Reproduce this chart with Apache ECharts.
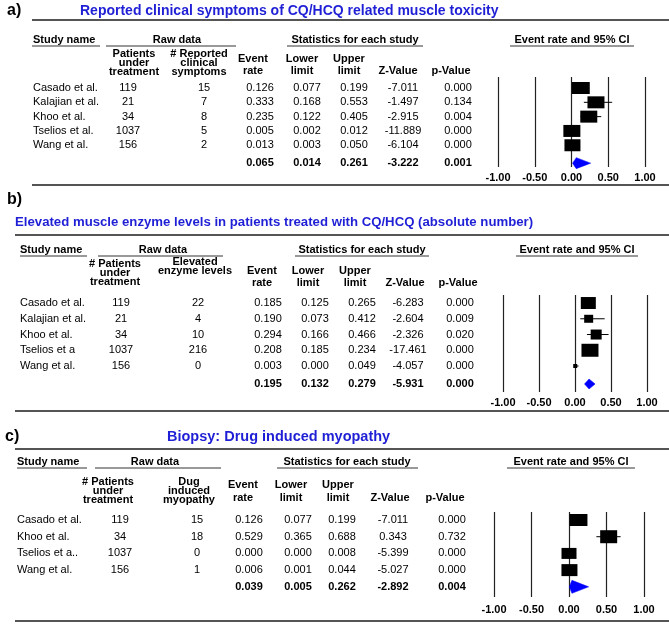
<!DOCTYPE html>
<html><head><meta charset="utf-8">
<script src="https://cdn.jsdelivr.net/npm/echarts@6/dist/echarts.min.js"></script>
<style>html,body{margin:0;padding:0;background:#fff}#c{width:669px;height:624px}</style>
</head><body><div id="c"></div><script>
// ---------- data ----------
const tickValues = [-1, -0.5, 0, 0.5, 1];

// a) Reported clinical symptoms
const aStudies  = ['Casado et al.', 'Kalajian et al.', 'Khoo et al.', 'Tselios et al.', 'Wang et al.'];
const aPatients = [119, 21, 34, 1037, 156];
const aEvents   = [15, 7, 8, 5, 2];
const aRate     = [0.126, 0.333, 0.235, 0.005, 0.013];
const aLower    = [0.077, 0.168, 0.122, 0.002, 0.003];
const aUpper    = [0.199, 0.553, 0.405, 0.012, 0.050];
const aZ        = [-7.011, -1.497, -2.915, -11.889, -6.104];
const aP        = [0.000, 0.134, 0.004, 0.000, 0.000];
const aSummary  = [0.065, 0.014, 0.261, -3.222, 0.001]; // rate, lower, upper, z, p

// b) Elevated muscle enzyme levels
const bStudies  = ['Casado et al.', 'Kalajian et al.', 'Khoo et al.', 'Tselios et a', 'Wang et al.'];
const bPatients = [119, 21, 34, 1037, 156];
const bEvents   = [22, 4, 10, 216, 0];
const bRate     = [0.185, 0.190, 0.294, 0.208, 0.003];
const bLower    = [0.125, 0.073, 0.166, 0.185, 0.000];
const bUpper    = [0.265, 0.412, 0.466, 0.234, 0.049];
const bZ        = [-6.283, -2.604, -2.326, -17.461, -4.057];
const bP        = [0.000, 0.009, 0.020, 0.000, 0.000];
const bSummary  = [0.195, 0.132, 0.279, -5.931, 0.000];

// c) Biopsy: drug induced myopathy
const cStudies  = ['Casado et al.', 'Khoo et al.', 'Tselios et a..', 'Wang et al.'];
const cPatients = [119, 34, 1037, 156];
const cEvents   = [15, 18, 0, 1];
const cRate     = [0.126, 0.529, 0.000, 0.006];
const cLower    = [0.077, 0.365, 0.000, 0.001];
const cUpper    = [0.199, 0.688, 0.008, 0.044];
const cZ        = [-7.011, 0.343, -5.399, -5.027];
const cP        = [0.000, 0.732, 0.000, 0.000];
const cSummary  = [0.039, 0.005, 0.262, -2.892, 0.004];

// ---------- layout / style ----------
const FONT = '"Liberation Sans", Arial, sans-serif';
const BLUE = '#1f1fd6';
const panels = [
  {
    label: 'a)', title: 'Reported clinical symptoms of CQ/HCQ related muscle toxicity',
    d: { studies: aStudies, patients: aPatients, events: aEvents, rate: aRate, lower: aLower, upper: aUpper, z: aZ, p: aP, sum: aSummary },
    head2: ['Patients', 'under', 'treatment'], head3: ['# Reported', 'clinical', 'symptoms'],
    L: { labelX: 7, labelY: 11, titleX: 80, titleY: 11, titleFont: 'bold 14px',
      rules: [[32, 20], [32, 185]],
      hdrY: 40, ulY: 46, studyUl: [32, 100], rawUl: [106, 236], statUl: [287, 423], ciUl: [510, 634],
      studyX: 33, rawCX: 177, statCX: 355, ciCX: 572,
      h2Y: [54, 63, 72], h3Y: [54, 63, 72], c2Hx: 134, c3Hx: 199, evHY: [59, 71], hx: [253, 302, 349, 398, 451],
      nameX: 33, colX: [128, 204, 260, 307, 354, 403, 458],
      grid: { left: 498, width: 147, top: 77, height: 90 }, ymin: -0.77, ymax: 5.52, sumIdx: 5.25, labelMargin: 5,
      boxes: [[18, 12], [17, 12], [17, 12], [17, 12], [16, 12]], diamondH: 11 }
  },
  {
    label: 'b)', title: 'Elevated muscle enzyme levels in patients treated with CQ/HCQ (absolute number)',
    d: { studies: bStudies, patients: bPatients, events: bEvents, rate: bRate, lower: bLower, upper: bUpper, z: bZ, p: bP, sum: bSummary },
    head2: ['# Patients', 'under', 'treatment'], head3: ['Elevated', 'enzyme levels'],
    L: { labelX: 7, labelY: 200, titleX: 15, titleY: 222, titleFont: 'bold 13.2px',
      rules: [[15, 235], [15, 411]],
      hdrY: 250, ulY: 256, studyUl: [20, 87], rawUl: [98, 223], statUl: [295, 429], ciUl: [516, 638],
      studyX: 20, rawCX: 163, statCX: 362, ciCX: 577,
      h2Y: [264, 273, 282], h3Y: [262, 271], c2Hx: 115, c3Hx: 195, evHY: [271, 283], hx: [262, 308, 355, 405, 458],
      nameX: 20, colX: [121, 198, 268, 315, 362, 408, 460],
      grid: { left: 503, width: 144, top: 295, height: 97 }, ymin: -0.51, ymax: 5.65, sumIdx: 5.14, labelMargin: 5,
      boxes: [[15, 12], [9, 8], [11, 10], [17, 13], [4, 4]], diamondH: 10 }
  },
  {
    label: 'c)', title: 'Biopsy: Drug induced myopathy',
    d: { studies: cStudies, patients: cPatients, events: cEvents, rate: cRate, lower: cLower, upper: cUpper, z: cZ, p: cP, sum: cSummary },
    head2: ['# Patients', 'under', 'treatment'], head3: ['Dug', 'induced', 'myopathy'],
    L: { labelX: 5, labelY: 437, titleX: 167, titleY: 437, titleFont: 'bold 14.5px',
      rules: [[15, 449], [15, 621]],
      hdrY: 462, ulY: 468, studyUl: [17, 87], rawUl: [95, 221], statUl: [277, 418], ciUl: [507, 635],
      studyX: 17, rawCX: 155, statCX: 347, ciCX: 571,
      h2Y: [482, 491, 500], h3Y: [482, 491, 500], c2Hx: 108, c3Hx: 189, evHY: [485, 498], hx: [243, 291, 338, 390, 445],
      nameX: 17, colX: [120, 197, 249, 298, 342, 393, 452],
      grid: { left: 494, width: 150, top: 512, height: 85 }, ymin: -0.48, ymax: 4.61, sumIdx: 4.0, labelMargin: 7,
      boxes: [[18, 12], [17, 13], [15, 11], [16, 12]], diamondH: 13 }
  }
];

// ---------- build ----------
const grids = [], xAxes = [], yAxes = [], series = [], graphics = [];
const txt = (x, y, s, o) => ({ type: 'text', x: x, y: y, silent: true,
  style: { text: s, font: (o && o.font) || ('11px ' + FONT), fill: (o && o.fill) || '#000',
    textAlign: (o && o.align) || 'center', textVerticalAlign: 'middle' } });
const bold = (px) => 'bold ' + px + 'px ' + FONT;
const line = (x1, y1, x2, y2, w, c) => ({ type: 'line', silent: true, shape: { x1, y1, x2, y2 }, style: { stroke: c, lineWidth: w } });

panels.forEach((P, k) => {
  const L = P.L, d = P.d;
  grids.push(Object.assign({}, L.grid));
  xAxes.push({
    type: 'value', gridIndex: k, min: tickValues[0], max: tickValues[tickValues.length - 1],
    interval: tickValues[1] - tickValues[0],
    axisLine: { show: false }, axisTick: { show: false },
    splitLine: { show: true, lineStyle: { color: '#222', width: 1.2 } },
    axisLabel: { margin: L.labelMargin, fontFamily: FONT, fontSize: 11, fontWeight: 'bold', color: '#000',
      formatter: v => v.toFixed(2) }
  });
  yAxes.push({ type: 'value', gridIndex: k, inverse: true, min: L.ymin, max: L.ymax, show: false, splitLine: { show: false } });

  // forest marks
  const fData = d.rate.map((r, i) => [r, i, d.lower[i], d.upper[i], 0]);
  fData.push([d.sum[0], L.sumIdx, d.sum[1], d.sum[2], 1]);
  series.push({
    type: 'custom', xAxisIndex: k, yAxisIndex: k, clip: false, silent: true, animation: false,
    data: fData,
    renderItem: (params, api) => {
      const i = params.dataIndex;
      const row = api.value(1);
      const c = api.coord([api.value(0), row]);
      const lo = api.coord([api.value(2), row]);
      const up = api.coord([api.value(3), row]);
      if (api.value(4) === 1) {
        const h = L.diamondH / 2;
        return { type: 'polygon', shape: { points: [[lo[0], c[1]], [c[0], c[1] - h], [up[0], c[1]], [c[0], c[1] + h]] },
          style: { fill: '#0000ff', stroke: '#0000ff', lineWidth: 0.5 } };
      }
      const b = L.boxes[i];
      return { type: 'group', children: [
        { type: 'line', shape: { x1: lo[0], y1: c[1], x2: up[0], y2: c[1] }, style: { stroke: '#000', lineWidth: 1 } },
        { type: 'rect', shape: { x: c[0] - b[0] / 2, y: c[1] - b[1] / 2, width: b[0], height: b[1] }, style: { fill: '#000' } }
      ] };
    }
  });

  // table text rows
  const tData = d.studies.map((s, i) => [0, i, 0]);
  tData.push([0, L.sumIdx, 1]);
  series.push({
    type: 'custom', xAxisIndex: k, yAxisIndex: k, clip: false, silent: true, animation: false,
    data: tData,
    renderItem: (params, api) => {
      const i = params.dataIndex;
      const y = api.coord([0, api.value(1)])[1];
      const X = L.colX;
      const mk = (x, s, f, al) => ({ type: 'text', x: x, y: y,
        style: { text: s, font: f, fill: '#000', textAlign: al || 'center', textVerticalAlign: 'middle' } });
      if (api.value(2) === 1) {
        const f = bold(11);
        return { type: 'group', children: [
          mk(X[2], d.sum[0].toFixed(3), f), mk(X[3], d.sum[1].toFixed(3), f), mk(X[4], d.sum[2].toFixed(3), f),
          mk(X[5], d.sum[3].toFixed(3), f), mk(X[6], d.sum[4].toFixed(3), f)
        ] };
      }
      const f = '11px ' + FONT;
      return { type: 'group', children: [
        mk(L.nameX, d.studies[i], f, 'left'),
        mk(X[0], String(d.patients[i]), f), mk(X[1], String(d.events[i]), f),
        mk(X[2], d.rate[i].toFixed(3), f), mk(X[3], d.lower[i].toFixed(3), f), mk(X[4], d.upper[i].toFixed(3), f),
        mk(X[5], d.z[i].toFixed(3), f), mk(X[6], d.p[i].toFixed(3), f)
      ] };
    }
  });

  // static decorations: labels, titles, headers, rules
  graphics.push(txt(L.labelX, L.labelY, P.label, { font: bold(16), align: 'left' }));
  graphics.push(txt(L.titleX, L.titleY, P.title, { font: L.titleFont + ' ' + FONT, fill: BLUE, align: 'left' }));
  L.rules.forEach(r => graphics.push(line(r[0], r[1], 669, r[1], 2, '#555')));
  [L.studyUl, L.rawUl, L.statUl, L.ciUl].forEach(u => graphics.push(line(u[0], L.ulY, u[1], L.ulY, 1.5, '#777')));
  graphics.push(txt(L.studyX, L.hdrY, 'Study name', { font: bold(11), align: 'left' }));
  graphics.push(txt(L.rawCX, L.hdrY, 'Raw data', { font: bold(11) }));
  graphics.push(txt(L.statCX, L.hdrY, 'Statistics for each study', { font: bold(11) }));
  graphics.push(txt(L.ciCX, L.hdrY, 'Event rate and 95% CI', { font: bold(11) }));
  P.head2.forEach((s, j) => graphics.push(txt(L.c2Hx, L.h2Y[j], s, { font: bold(11) })));
  P.head3.forEach((s, j) => graphics.push(txt(L.c3Hx, L.h3Y[j], s, { font: bold(11) })));
  [['Event', 'rate'], ['Lower', 'limit'], ['Upper', 'limit']].forEach((h, j) => {
    graphics.push(txt(L.hx[j], L.evHY[0], h[0], { font: bold(11) }));
    graphics.push(txt(L.hx[j], L.evHY[1], h[1], { font: bold(11) }));
  });
  graphics.push(txt(L.hx[3], L.evHY[1], 'Z-Value', { font: bold(11) }));
  graphics.push(txt(L.hx[4], L.evHY[1], 'p-Value', { font: bold(11) }));
});

const chart = echarts.init(document.getElementById('c'), null, { renderer: 'canvas' });
chart.setOption({
  animation: false,
  backgroundColor: '#fff',
  grid: grids, xAxis: xAxes, yAxis: yAxes, series: series,
  graphic: { elements: graphics }
});
</script></body></html>
